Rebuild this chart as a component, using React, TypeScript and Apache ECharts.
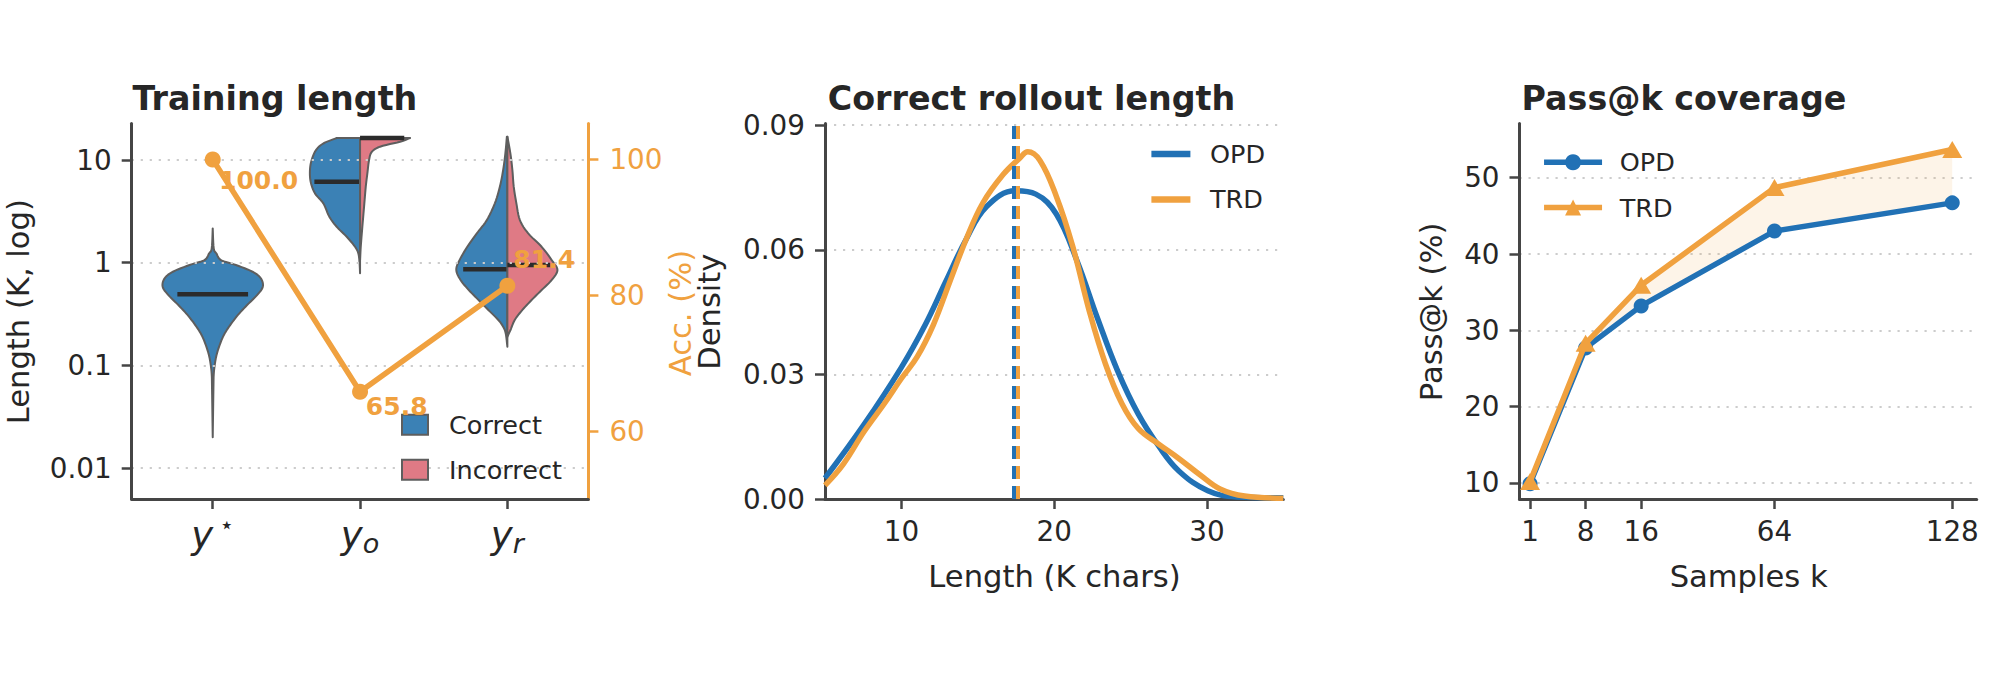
import { useEffect, useRef } from 'react';
import * as echarts from 'echarts';

// ---------- Panel 1: training length (violins) with accuracy ----------
const lengthCategories = ['y*', 'y_o', 'y_r'];
const accuracy = [100.0, 65.8, 81.4];
const lengthTicks = [0.01, 0.1, 1, 10];
const accTicks = [60, 80, 100];

// Violin outlines: [length (K chars), relative density], listed top to bottom
const yStarCorrect: [number, number][] = [
  [2.16, 0], [1.38, 0.02], [1.23, 0.074], [1.06, 0.165], [0.95, 0.463], [0.817, 0.795],
  [0.705, 0.96], [0.584, 1.0], [0.484, 0.885], [0.387, 0.686], [0.31, 0.503], [0.247, 0.348],
  [0.198, 0.223], [0.158, 0.139], [0.126, 0.076], [0.101, 0.04], [0.081, 0.02], [0.06, 0.014], [0.02, 0],
];
const yoCorrect: [number, number][] = [
  [16.4, 0.466], [14.5, 0.734], [12.5, 0.88], [10, 0.966], [8, 1.0], [6.15, 0.986], [4.74, 0.9],
  [3.79, 0.734], [2.81, 0.614], [2.24, 0.466], [1.79, 0.266], [1.43, 0.1], [1.23, 0.034], [1.0, 0.01], [0.79, 0],
];
const yoIncorrect: [number, number][] = [
  [16.4, 1.0], [15.1, 0.8], [13.5, 0.4], [12.0, 0.234], [10, 0.18], [7.4, 0.146], [5.5, 0.114],
  [3.5, 0.08], [2.24, 0.046], [1.43, 0.014], [1.06, 0],
];
const yrCorrect: [number, number][] = [
  [16.9, 0.01], [11.6, 0.04], [8.0, 0.084], [5.5, 0.15], [3.79, 0.25], [2.6, 0.41], [1.93, 0.61],
  [1.43, 0.8], [1.06, 0.955], [0.85, 1.02], [0.679, 0.935], [0.542, 0.77], [0.433, 0.575],
  [0.347, 0.38], [0.277, 0.18], [0.238, 0.084], [0.205, 0.033], [0.152, 0],
];
const yrIncorrect: [number, number][] = [
  [16.9, 0], [11.6, 0.06], [8.0, 0.1], [5.5, 0.127], [3.79, 0.18], [2.6, 0.25], [1.93, 0.416],
  [1.43, 0.684], [1.06, 0.885], [0.85, 1.0], [0.679, 0.885], [0.542, 0.684], [0.433, 0.483],
  [0.347, 0.3], [0.277, 0.147], [0.22, 0.06], [0.19, 0],
];
const yStarMedian = 0.492;
const yoCorrectMedian = 6.15;
const yoIncorrectMedian = 16.4;
const yrCorrectMedian = 0.863;
const yrIncorrectMedian = 0.95;

// ---------- Panel 2: correct rollout length densities ----------
const opdDensity: [number, number][] = [
  [5.0, 0.005], [7.55, 0.0179], [10, 0.0317], [11.57, 0.042], [12.9, 0.0523], [14.25, 0.0626],
  [15.58, 0.0704], [17.46, 0.0742], [18.8, 0.0734], [20.14, 0.0686], [21.48, 0.0575], [22.82, 0.0437],
  [24.16, 0.0308], [25.5, 0.0205], [26.85, 0.0127], [28.18, 0.0067], [30.06, 0.002], [31.93, 0.0005], [35, 0.0003],
];
const trdDensity: [number, number][] = [
  [5.0, 0.0033], [6.2, 0.0084], [7.55, 0.0162], [8.89, 0.023], [10, 0.029], [11.03, 0.0342],
  [12.1, 0.042], [13.17, 0.0523], [14.25, 0.0626], [15.32, 0.0712], [16.66, 0.0781], [17.73, 0.082],
  [18.27, 0.0836], [19.07, 0.0815], [20.14, 0.0729], [21.21, 0.0609], [22.29, 0.0454], [23.36, 0.0325],
  [24.43, 0.023], [25.5, 0.017], [26.85, 0.0132], [28.18, 0.0097], [29.52, 0.0059], [30.86, 0.0024],
  [32.47, 0.0007], [35, 0.0002],
];
const opdMeanLength = 17.33;
const trdMeanLength = 17.62;
const densityTicks = [0, 0.03, 0.06, 0.09];
const charTicks = [10, 20, 30];

// ---------- Panel 3: pass@k ----------
const kValues = [1, 8, 16, 64, 128];
const opdPass = [9.9, 27.7, 33.2, 43.0, 46.7];
const trdPass = [10.2, 28.3, 35.9, 48.7, 53.7];
const passTicks = [10, 20, 30, 40, 50];

// ---------- styles ----------
const FONT = 'DejaVu Sans';
const TEXT = '#262626';
const SPINE = '#454545';
const GRID_LINE = '#cccccc';
const VIOLIN_BLUE = '#3b81b5';
const VIOLIN_PINK = '#df7a85';
const VIOLIN_EDGE = '#5e5e5e';
const MEDIAN = '#2b2b2b';
const BLUE = '#2171b5';
const ORANGE = '#f0a13f';
const VIOLIN_HALF = 0.34;
const TICK_FONT = 27.8;
const LABEL_FONT = 30.6;
const LEGEND_FONT = 25.5;
const accLabelOffsets = [[6.3, 21.5], [5.8, 14.9], [6, -26.7]];

// k axis: 1, 8 and 16 get one slot each, beyond 16 one slot per 20 samples
function kAxis(k: number) {
  if (k <= 8) return (k - 1) / 7;
  if (k <= 16) return 1 + (k - 8) / 8;
  return 2 + (k - 16) / 20;
}

// Catmull-Rom densification of an outline in screen space
function smoothPath(pts: number[][], steps = 6): number[][] {
  if (pts.length < 3) return pts;
  const out: number[][] = [];
  for (let i = 0; i < pts.length - 1; i++) {
    const p0 = pts[Math.max(i - 1, 0)];
    const p1 = pts[i];
    const p2 = pts[i + 1];
    const p3 = pts[Math.min(i + 2, pts.length - 1)];
    for (let s = 0; s < steps; s++) {
      const t = s / steps;
      const t2 = t * t;
      const t3 = t2 * t;
      out.push([0, 1].map((d) =>
        0.5 * (2 * p1[d] + (-p0[d] + p2[d]) * t +
          (2 * p0[d] - 5 * p1[d] + 4 * p2[d] - p3[d]) * t2 +
          (-p0[d] + 3 * p1[d] - 3 * p2[d] + p3[d]) * t3)));
    }
  }
  out.push(pts[pts.length - 1]);
  return out;
}

type Violin = {
  cat: number;
  side: 'both' | 'left' | 'right';
  profile: [number, number][];
  median: number;
  medianSpan: [number, number];
  color: string;
};

const correctViolins: Violin[] = [
  { cat: 0, side: 'both', profile: yStarCorrect, median: yStarMedian, medianSpan: [-0.24, 0.24], color: VIOLIN_BLUE },
  { cat: 1, side: 'left', profile: yoCorrect, median: yoCorrectMedian, medianSpan: [-0.31, 0.01], color: VIOLIN_BLUE },
  { cat: 2, side: 'left', profile: yrCorrect, median: yrCorrectMedian, medianSpan: [-0.3, 0.01], color: VIOLIN_BLUE },
];
const incorrectViolins: Violin[] = [
  { cat: 1, side: 'right', profile: yoIncorrect, median: yoIncorrectMedian, medianSpan: [0, 0.3], color: VIOLIN_PINK },
  { cat: 2, side: 'right', profile: yrIncorrect, median: yrIncorrectMedian, medianSpan: [0, 0.29], color: VIOLIN_PINK },
];

const renderViolin = (list: Violin[]) => (params: any, api: any) => {
  const v = list[params.dataIndex];
  const center = api.coord([v.cat, v.profile[0][0]])[0];
  const edgeOf = (sign: number) =>
    smoothPath(v.profile.map(([len, d]) => api.coord([v.cat + sign * d * VIOLIN_HALF, len])))
      .map(([x, y]) => [sign < 0 ? Math.min(x, center) : Math.max(x, center), y]);
  let points: number[][];
  if (v.side === 'both') {
    points = [...edgeOf(-1), ...edgeOf(1).reverse()];
  } else {
    const sign = v.side === 'left' ? -1 : 1;
    const top = api.coord([v.cat, v.profile[0][0]]);
    const bottom = api.coord([v.cat, v.profile[v.profile.length - 1][0]]);
    points = [top, ...edgeOf(sign), bottom];
  }
  const a = api.coord([v.cat + v.medianSpan[0], v.median]);
  const b = api.coord([v.cat + v.medianSpan[1], v.median]);
  return {
    type: 'group',
    children: [
      { type: 'polygon', shape: { points }, style: { fill: v.color, stroke: VIOLIN_EDGE, lineWidth: 2, lineJoin: 'round' } },
      { type: 'line', shape: { x1: a[0], y1: a[1], x2: b[0], y2: b[1] }, style: { stroke: MEDIAN, lineWidth: 4.5 } },
    ],
  };
};

const axisLine = (color = SPINE) => ({ show: true, onZero: false, lineStyle: { color, width: 3 } });
const axisTick = (values: number[], color = SPINE) => ({
  show: true, customValues: values, length: 10, inside: false, lineStyle: { color, width: 2.5 },
});
const dottedGrid = { show: true, lineStyle: { color: GRID_LINE, width: 2.2, type: [2.2, 6.8] } };
const noGrid = { show: false };
const yLabel = (values: number[], formatter: (v: number) => string, color = TEXT, margin = 20) => ({
  customValues: values, formatter, color, fontSize: TICK_FONT, fontFamily: FONT, margin, hideOverlap: false,
});
const xLabel = (values: number[], formatter: (v: number) => string) => ({
  customValues: values, formatter, color: TEXT, fontSize: TICK_FONT, fontFamily: FONT,
  verticalAlign: 'middle', margin: 32, hideOverlap: false,
});

const mathLabels: Record<string, string> = {
  'y*': '{m|y}{sup|⋆}',
  y_o: '{m|y}{sub|o}',
  y_r: '{m|y}{sub|r}',
};

function text(content: string, x: number, y: number, opts: any = {}) {
  return {
    type: 'text', x, y, rotation: opts.rotation ?? 0, silent: true,
    style: {
      text: content, fill: opts.color ?? TEXT, fontSize: opts.size ?? LABEL_FONT, fontFamily: FONT,
      fontWeight: opts.bold ? 'bold' : 'normal', align: opts.align ?? 'center', verticalAlign: 'middle',
    },
  };
}

function buildOption() {
  return {
    animation: false,
    backgroundColor: '#ffffff',
    textStyle: { fontFamily: FONT },
    grid: [
      { left: 131.7, top: 123.5, width: 456.7, height: 375.5 },
      { left: 825, top: 123.5, width: 458.3, height: 375.5 },
      { left: 1519.5, top: 123.5, width: 457.2, height: 375.5 },
    ],
    xAxis: [
      {
        gridIndex: 0, type: 'value', min: -0.55, max: 2.55,
        axisLine: axisLine(), axisTick: axisTick([0, 1, 2]), splitLine: noGrid,
        axisLabel: {
          customValues: [0, 1, 2], margin: 36, verticalAlign: 'middle', hideOverlap: false,
          formatter: (v: number) => mathLabels[lengthCategories[Math.round(v)]] ?? '',
          rich: {
            m: { fontFamily: FONT, fontStyle: 'italic', fontSize: 37, color: TEXT, lineHeight: 44 },
            sup: { fontFamily: FONT, fontSize: 24, color: TEXT, lineHeight: 26, verticalAlign: 'top', padding: [0, 0, 0, 6] },
            sub: { fontFamily: FONT, fontStyle: 'italic', fontSize: 27, color: TEXT, lineHeight: 30, verticalAlign: 'bottom' },
          },
        },
      },
      {
        gridIndex: 1, type: 'value', min: 5, max: 35,
        axisLine: axisLine(), axisTick: axisTick(charTicks), splitLine: noGrid,
        axisLabel: xLabel(charTicks, (v) => String(v)),
      },
      {
        gridIndex: 2, type: 'value', min: -0.19, max: 8.04,
        axisLine: axisLine(), axisTick: axisTick(kValues.map(kAxis)), splitLine: noGrid,
        axisLabel: xLabel(kValues.map(kAxis), (v) => {
          const i = kValues.findIndex((k) => Math.abs(kAxis(k) - v) < 1e-6);
          return i >= 0 ? String(kValues[i]) : '';
        }),
      },
    ],
    yAxis: [
      {
        gridIndex: 0, type: 'log', logBase: 10, min: 0.005, max: 22.7, z: 3,
        axisLine: axisLine(), axisTick: axisTick(lengthTicks), splitLine: dottedGrid,
        axisLabel: yLabel(lengthTicks, (v) => String(Number(v.toPrecision(2)))),
      },
      {
        gridIndex: 0, type: 'value', position: 'right', min: 50, max: 105.3,
        axisLine: axisLine(ORANGE), axisTick: axisTick(accTicks, ORANGE), splitLine: noGrid,
        axisLabel: yLabel(accTicks, (v) => String(Math.round(v)), ORANGE, 21),
      },
      {
        gridIndex: 1, type: 'value', min: 0, max: 0.0904,
        axisLine: axisLine(), axisTick: axisTick(densityTicks), splitLine: dottedGrid,
        axisLabel: yLabel(densityTicks, (v) => v.toFixed(2)),
      },
      {
        gridIndex: 2, type: 'value', min: 7.9, max: 57.1,
        axisLine: axisLine(), axisTick: axisTick(passTicks), splitLine: dottedGrid,
        axisLabel: yLabel(passTicks, (v) => String(Math.round(v))),
      },
    ],
    legend: [
      {
        left: 401, top: 411.8, orient: 'vertical', padding: 0, itemWidth: 26, itemHeight: 20, itemGap: 19,
        selectedMode: false,
        textStyle: { fontSize: LEGEND_FONT, color: TEXT, fontFamily: FONT, lineHeight: 20, padding: [0, 0, 0, 16] },
        data: [
          { name: 'Correct', icon: 'rect', itemStyle: { color: VIOLIN_BLUE, borderColor: VIOLIN_EDGE, borderWidth: 2 } },
          { name: 'Incorrect', icon: 'rect', itemStyle: { color: VIOLIN_PINK, borderColor: VIOLIN_EDGE, borderWidth: 2 } },
        ],
      },
      {
        left: 1151.4, top: 141, orient: 'vertical', padding: 0, itemWidth: 39, itemHeight: 6.5, itemGap: 19.4,
        selectedMode: false,
        textStyle: { fontSize: LEGEND_FONT, color: TEXT, fontFamily: FONT, lineHeight: 20, padding: [0, 0, 0, 14.6] },
        data: [
          { name: 'OPD', icon: 'rect', itemStyle: { color: BLUE, borderWidth: 0 } },
          { name: 'TRD', icon: 'rect', itemStyle: { color: ORANGE, borderWidth: 0 } },
        ],
      },
      {
        left: 1541.3, top: 149.3, orient: 'vertical', padding: 0, itemWidth: 58, itemHeight: 20, itemGap: 19.3,
        selectedMode: false,
        lineStyle: { width: 5.5 },
        textStyle: { fontSize: LEGEND_FONT, color: TEXT, fontFamily: FONT, lineHeight: 20, padding: [0, 0, 0, 12.7] },
        formatter: (name: string) => name.split(' ')[0],
        data: ['OPD pass@k', 'TRD pass@k'],
      },
    ],
    graphic: [
      text('Training length', 132.5, 98, { bold: true, size: 33.3, align: 'left' }),
      text('Correct rollout length', 827.8, 98, { bold: true, size: 33.3, align: 'left' }),
      text('Pass@k coverage', 1521.6, 98, { bold: true, size: 33.3, align: 'left' }),
      text('Length (K, log)', 18.3, 311.7, { rotation: Math.PI / 2 }),
      text('Acc. (%)', 680, 313, { rotation: Math.PI / 2, color: ORANGE }),
      text('Density', 709, 311.7, { rotation: Math.PI / 2 }),
      text('Length (K chars)', 1054.5, 576),
      text('Samples k', 1748.7, 576),
      text('Pass@k (%)', 1431.4, 311.8, { rotation: Math.PI / 2 }),
    ],
    series: [
      {
        type: 'custom', name: 'Correct', xAxisIndex: 0, yAxisIndex: 0, z: 2, silent: true,
        itemStyle: { color: VIOLIN_BLUE },
        encode: { x: 0, y: 1 },
        data: correctViolins.map((v) => [v.cat, v.median]),
        renderItem: renderViolin(correctViolins),
      },
      {
        type: 'custom', name: 'Incorrect', xAxisIndex: 0, yAxisIndex: 0, z: 2, silent: true,
        itemStyle: { color: VIOLIN_PINK },
        encode: { x: 0, y: 1 },
        data: incorrectViolins.map((v) => [v.cat, v.median]),
        renderItem: renderViolin(incorrectViolins),
      },
      {
        type: 'line', name: 'Acc.', xAxisIndex: 0, yAxisIndex: 1, z: 5, silent: true,
        symbol: 'circle', symbolSize: 16, color: ORANGE,
        lineStyle: { color: ORANGE, width: 5.5 },
        itemStyle: { color: ORANGE },
        label: {
          show: true, color: ORANGE, fontFamily: FONT, fontWeight: 'bold', fontSize: 25,
          align: 'left', verticalAlign: 'middle',
          formatter: (p: any) => Number(p.value[1]).toFixed(1),
        },
        data: accuracy.map((a, i) => ({
          value: [i, a],
          label: { position: [accLabelOffsets[i][0] + 8, accLabelOffsets[i][1] + 8] },
        })),
      },
      {
        type: 'line', name: 'OPD', xAxisIndex: 1, yAxisIndex: 2, z: 3, silent: true,
        symbol: 'none', smooth: 0.4, color: BLUE,
        lineStyle: { color: BLUE, width: 5.5 },
        data: opdDensity,
        markLine: {
          silent: true, symbol: ['none', 'none'], label: { show: false }, z: 5,
          lineStyle: { color: BLUE, width: 4, type: [13, 7] },
          data: [{ xAxis: opdMeanLength }],
        },
      },
      {
        type: 'line', name: 'TRD', xAxisIndex: 1, yAxisIndex: 2, z: 3, silent: true,
        symbol: 'none', smooth: 0.4, color: ORANGE,
        lineStyle: { color: ORANGE, width: 5.5 },
        data: trdDensity,
        markLine: {
          silent: true, symbol: ['none', 'none'], label: { show: false }, z: 5,
          lineStyle: { color: ORANGE, width: 4, type: [13, 7] },
          data: [{ xAxis: trdMeanLength }],
        },
      },
      {
        type: 'custom', name: 'gap', xAxisIndex: 2, yAxisIndex: 3, z: 1, silent: true,
        encode: { x: 0, y: 1 },
        data: [[kAxis(kValues[0]), opdPass[0]]],
        renderItem: (_params: any, api: any) => {
          const upper = kValues.map((k, i) => api.coord([kAxis(k), trdPass[i]]));
          const lower = kValues.map((k, i) => api.coord([kAxis(k), opdPass[i]])).reverse();
          return { type: 'polygon', shape: { points: [...upper, ...lower] }, style: { fill: 'rgba(240,161,63,0.12)' } };
        },
      },
      {
        type: 'line', name: 'OPD pass@k', xAxisIndex: 2, yAxisIndex: 3, z: 3, silent: true,
        symbol: 'circle', symbolSize: 15, color: BLUE,
        lineStyle: { color: BLUE, width: 5.5 },
        itemStyle: { color: BLUE },
        data: kValues.map((k, i) => [kAxis(k), opdPass[i]]),
      },
      {
        type: 'line', name: 'TRD pass@k', xAxisIndex: 2, yAxisIndex: 3, z: 4, silent: true,
        symbol: 'triangle', symbolSize: [20, 17], color: ORANGE,
        lineStyle: { color: ORANGE, width: 5.5 },
        itemStyle: { color: ORANGE },
        data: kValues.map((k, i) => [kAxis(k), trdPass[i]]),
      },
    ],
  };
}

export default function App() {
  const ref = useRef<HTMLDivElement>(null);
  useEffect(() => {
    document.body.style.margin = '0';
    if (!ref.current) return;
    const chart = echarts.init(ref.current, undefined, { renderer: 'svg', width: 2000, height: 694 });
    chart.setOption(buildOption() as any);
    return () => chart.dispose();
  }, []);
  return <div ref={ref} style={{ width: 2000, height: 694 }} />;
}
